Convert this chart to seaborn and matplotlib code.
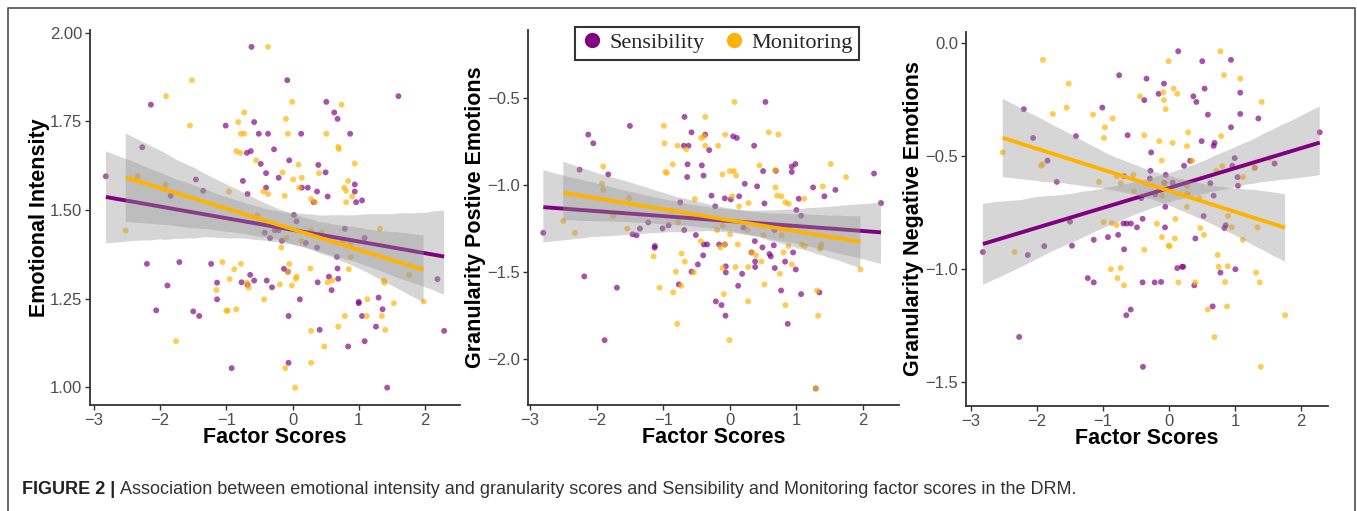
import numpy as np
import pandas as pd
import matplotlib
matplotlib.use("Agg")
import matplotlib.pyplot as plt
import seaborn as sns
from matplotlib.lines import Line2D

# ---------------- data ----------------
groups = ["Sensibility", "Monitoring"]
group_colors = ["#800080", "#FFB300"]

# Panel 1: Emotional Intensity
ei_sens_x = [-0.62, -0.08, -2.14, 1.60, 0.51, 0.63, 0.68, -1.01, -0.58, -0.51, -0.37, 0.13, 0.87, -0.28,
             -2.27, -0.69, -0.63, -0.05, -0.48, 0.39, 0.50, -0.40, -0.21, -2.82, -1.46, -0.75, -0.40, 0.14,
             0.23, 0.94, 0.94, 0.37, -0.68, 0.53, -1.35, -1.84, 0.32, 0.96, 1.05, 0.02, 0.06, 0.79, -0.42,
             -0.27, -0.21, -0.34, -0.16, 0.20, 0.37, 1.09, 0.67, -2.20, -1.71, -1.23, -0.13, 0.68, 0.69,
             0.55, -0.64, -1.14, -0.77, -0.68, -0.58, -0.39, -0.31, 0.38, 0.59, -1.89, -1.14, 0.11, 1.00,
             1.00, 1.30, 1.36, -2.06, -1.50, -1.41, -0.06, 1.05, 1.26, 0.41, 2.19, 2.29, 1.09, 0.84, -0.92,
             -0.06, 1.43, -0.07]
ei_sens_y = [1.960, 1.866, 1.797, 1.821, 1.805, 1.775, 1.757, 1.738, 1.748, 1.715, 1.715, 1.715, 1.715, 1.671,
             1.677, 1.661, 1.666, 1.640, 1.630, 1.627, 1.606, 1.604, 1.591, 1.595, 1.586, 1.582, 1.563, 1.563,
             1.563, 1.572, 1.552, 1.552, 1.545, 1.538, 1.554, 1.540, 1.522, 1.522, 1.527, 1.486, 1.468, 1.447,
             1.436, 1.443, 1.443, 1.421, 1.413, 1.407, 1.394, 1.421, 1.368, 1.348, 1.353, 1.348, 1.334, 1.335,
             1.306, 1.312, 1.317, 1.295, 1.296, 1.289, 1.301, 1.301, 1.282, 1.296, 1.274, 1.287, 1.248, 1.248,
             1.241, 1.237, 1.253, 1.220, 1.217, 1.214, 1.201, 1.201, 1.201, 1.171, 1.162, 1.305, 1.159, 1.130,
             1.115, 1.054, 1.069, 0.999, 1.326]
ei_mon_x = [-0.37, -1.52, -1.91, -0.005, 0.74, -0.73, -0.10, -0.82, -1.55, -0.78, -0.73, -0.07, 0.51, 0.69,
            0.70, -0.85, -0.79, -0.55, 0.94, 0.09, -0.15, 0.40, 0.14, 0.01, -2.34, 0.84, 0.78, 0.10, -1.92,
            0.81, -0.96, -0.44, -0.37, -0.12, 0.90, 0.28, 0.34, 0.81, -2.52, -0.53, 0.28, 0.44, 1.32, 0.76,
            0.13, -0.09, -0.17, 0.88, 0.88, -1.06, -0.78, -0.05, -0.88, 0.27, 0.85, 1.76, 0.06, 0.05, -0.95,
            0.60, 0.53, 1.38, 1.39, -0.69, -0.66, -0.19, -0.01, -1.15, -0.43, 1.13, 1.53, 1.98, -1.00, -0.98,
            -0.85, 0.79, 1.12, 1.35, 0.69, 0.28, 1.40, -1.76, 0.48, 0.28, -0.11, 0.04, -0.07]
ei_mon_y = [1.960, 1.866, 1.821, 1.805, 1.797, 1.775, 1.757, 1.748, 1.738, 1.715, 1.715, 1.715, 1.715, 1.678,
            1.672, 1.666, 1.661, 1.640, 1.631, 1.628, 1.606, 1.604, 1.591, 1.586, 1.595, 1.582, 1.563, 1.563,
            1.571, 1.554, 1.552, 1.552, 1.545, 1.540, 1.538, 1.531, 1.522, 1.522, 1.442, 1.486, 1.442, 1.436,
            1.447, 1.410, 1.413, 1.421, 1.394, 1.406, 1.367, 1.353, 1.348, 1.348, 1.333, 1.335, 1.333, 1.317,
            1.312, 1.306, 1.305, 1.301, 1.296, 1.301, 1.295, 1.295, 1.281, 1.290, 1.287, 1.274, 1.248, 1.248,
            1.237, 1.242, 1.216, 1.216, 1.220, 1.201, 1.201, 1.201, 1.171, 1.159, 1.162, 1.130, 1.115, 1.069,
            1.054, 0.999, 1.325]

# Panel 2: Granularity Positive Emotions
gp_sens_x = [0.535, -0.68, -1.50, -2.125, -2.05, -0.575, -0.37, -0.69, -0.62, -0.31, 0.05, 0.105, 0.365,
             -0.635, -0.42, -0.64, -0.395, -2.255, -1.825, 0.50, 0.69, 0.93, 0.985, 0.93, 0.225, 0.41, 1.25,
             1.585, 2.165, 2.27, 1.42, 1.035, -0.275, -0.075, 0.015, 0.14, 0.52, 1.00, 1.07, -0.22, -0.745,
             -1.225, -1.01, -0.92, -0.685, -1.46, -1.40, -1.35, -2.80, -0.51, 0.205, 0.67, 0.375, -0.39,
             -0.34, -0.16, -1.125, -1.13, 0.49, 0.66, 0.325, 0.615, 0.595, -0.40, 0.95, 0.38, 0.83, -0.48,
             0.38, 0.675, 0.99, -0.06, -0.06, -0.575, 0.185, -2.185, -1.695, -0.765, 0.125, 0.77, 1.07,
             1.345, -0.21, -0.125, -0.065, 0.87, -1.88, -0.075, 1.29]
gp_sens_y = [-0.521, -0.607, -0.659, -0.709, -0.759, -0.696, -0.709, -0.773, -0.773, -0.798, -0.719, -0.728,
             -0.773, -0.880, -0.886, -0.953, -0.945, -0.911, -0.938, -0.919, -0.917, -0.893, -0.878, -0.924,
             -0.992, -1.007, -1.013, -1.027, -0.933, -1.103, -1.064, -1.078, -1.060, -1.076, -1.082, -1.064,
             -1.105, -1.143, -1.176, -1.122, -1.099, -1.214, -1.249, -1.231, -1.258, -1.283, -1.289, -1.250,
             -1.274, -1.287, -1.245, -1.258, -1.322, -1.341, -1.341, -1.341, -1.350, -1.360, -1.358, -1.346,
             -1.387, -1.410, -1.396, -1.404, -1.387, -1.439, -1.440, -1.456, -1.471, -1.477, -1.485, -1.467,
             -1.502, -1.498, -1.510, -1.525, -1.590, -1.571, -1.579, -1.606, -1.627, -1.617, -1.669, -1.690,
             -1.751, -1.798, -1.892, -1.341, -2.170]
gp_mon_x = [0.07, -0.37, -0.99, 0.585, 0.73, -0.43, -0.385, -0.07, -0.98, -0.785, -0.655, -0.37, -0.175,
            -0.855, 0.445, -1.90, -0.965, -0.945, -0.11, 0.00, 0.06, 0.095, 0.68, 1.515, 1.745, -1.92, -1.90,
            0.685, 1.395, 0.71, 0.775, 0.035, -0.525, -1.51, 0.835, 0.885, 0.28, 0.14, 1.115, -2.50, -1.75,
            -0.875, -0.775, -2.325, -1.54, -0.19, -0.105, 0.265, 0.005, 0.505, 0.78, 0.885, -0.435, -0.14,
            0.12, 1.08, 1.125, 1.375, 1.355, 1.365, 0.33, 0.395, 0.805, 0.88, -1.145, -0.725, -0.675, 0.475,
            0.275, 0.93, 0.085, -0.11, -0.81, -0.54, 0.75, 1.96, -1.055, -0.73, 0.52, -0.85, -0.09, 0.275,
            1.31, 0.835, 1.325, -0.79, -0.005, 1.29, -0.075]
gp_mon_y = [-0.521, -0.607, -0.659, -0.696, -0.709, -0.728, -0.719, -0.709, -0.759, -0.773, -0.794, -0.773,
            -0.773, -0.880, -0.886, -0.893, -0.924, -0.930, -0.938, -0.919, -0.919, -0.945, -0.913, -0.878,
            -0.953, -0.991, -1.026, -1.013, -1.007, -1.060, -1.064, -1.064, -1.080, -1.074, -1.099, -1.107,
            -1.103, -1.122, -1.078, -1.206, -1.176, -1.147, -1.214, -1.274, -1.250, -1.258, -1.233, -1.258,
            -1.283, -1.287, -1.289, -1.245, -1.322, -1.358, -1.341, -1.341, -1.350, -1.341, -1.366, -1.358,
            -1.387, -1.404, -1.387, -1.350, -1.410, -1.393, -1.440, -1.439, -1.471, -1.456, -1.471, -1.477,
            -1.498, -1.502, -1.510, -1.485, -1.590, -1.579, -1.571, -1.617, -1.627, -1.669, -1.606, -1.690,
            -1.751, -1.798, -1.892, -2.170, -1.341]

# Panel 3: Granularity Negative Emotions
gn_sens_x = [0.14, 0.505, 0.94, -0.755, -0.34, -0.076, 0.54, 1.08, -0.157, -0.374, 0.37, 0.415, -1.01,
             -2.20, 0.59, 1.08, 1.355, 0.94, 2.285, -2.06, -1.41, -0.627, 0.495, 0.69, 0.677, -0.27, 0.996,
             -1.84, 1.60, 0.228, 0.32, 0.96, -0.28, -0.05, -0.68, 1.04, -1.70, 0.627, 1.045, 0.056, -0.07,
             -0.29, -0.207, -0.42, 0.677, -0.056, -0.40, -0.69, -0.64, -0.576, -1.50, -0.485, -0.06, 0.525,
             0.86, 0.84, -0.77, -0.925, 0.40, -1.14, -1.47, -1.89, -0.68, -2.82, -2.14, 0.197, 0.126, 0.217,
             1.006, 0.78, -1.23, -1.14, -0.40, -0.217, -0.12, 0.384, 0.662, -0.58, -0.647, -2.27, -0.394, 1.30]
gn_sens_y = [-0.038, -0.082, -0.076, -0.144, -0.159, -0.181, -0.203, -0.221, -0.226, -0.254, -0.237, -0.262,
             -0.287, -0.294, -0.318, -0.315, -0.335, -0.374, -0.396, -0.421, -0.413, -0.409, -0.435, -0.443,
             -0.456, -0.485, -0.510, -0.521, -0.534, -0.544, -0.522, -0.544, -0.566, -0.584, -0.590, -0.594,
             -0.615, -0.621, -0.632, -0.618, -0.619, -0.600, -0.671, -0.687, -0.676, -0.725, -0.778, -0.799,
             -0.799, -0.799, -0.791, -0.816, -0.816, -0.766, -0.807, -0.819, -0.849, -0.859, -0.865, -0.871,
             -0.897, -0.899, -0.913, -0.925, -0.938, -0.990, -0.996, -0.990, -1.001, -1.016, -1.040, -1.059,
             -1.059, -1.059, -1.057, -1.072, -1.165, -1.179, -1.204, -1.300, -1.432, -0.553]
gn_mon_x = [-1.91, -0.005, 0.78, 0.834, 1.08, -1.52, 0.07, 0.126, -0.086, -0.44, -0.076, -0.05, -1.55, 1.405,
            -1.76, -1.15, -0.854, -0.97, 0.29, 0.79, -0.374, -0.985, -0.147, 0.056, 0.273, -2.52, -0.11, 0.354,
            -1.915, -1.94, 0.81, 0.72, 1.53, 1.30, 1.12, -0.54, -0.79, -1.06, -0.73, -0.076, 0.273, -0.53,
            -0.106, 0.278, 0.455, 0.273, 0.895, -0.182, 0.096, -0.99, -0.865, -0.794, 0.475, 0.95, 1.34, 0.53,
            -0.106, 0.09, 1.12, -0.005, 0.01, -2.34, -0.374, 0.738, 0.753, 0.89, -0.88, -0.733, -0.78, -0.68,
            0.142, 0.40, 0.85, 1.32, 1.375, 0.88, 0.59, 1.76, 0.69, 1.39]
gn_mon_y = [-0.076, -0.082, -0.038, -0.144, -0.159, -0.181, -0.203, -0.226, -0.219, -0.237, -0.254, -0.294,
            -0.287, -0.262, -0.315, -0.318, -0.335, -0.374, -0.396, -0.413, -0.409, -0.421, -0.435, -0.443,
            -0.457, -0.485, -0.521, -0.522, -0.537, -0.544, -0.546, -0.566, -0.510, -0.553, -0.594, -0.584,
            -0.590, -0.615, -0.621, -0.619, -0.632, -0.656, -0.676, -0.668, -0.687, -0.725, -0.766, -0.800,
            -0.779, -0.793, -0.797, -0.806, -0.819, -0.816, -0.816, -0.849, -0.859, -0.865, -0.871, -0.897,
            -0.899, -0.925, -0.915, -0.938, -0.990, -0.988, -1.001, -0.996, -1.040, -1.072, -1.059, -1.059,
            -1.057, -1.016, -1.059, -1.165, -1.179, -1.204, -1.300, -1.432]

ylabels = ["Emotional Intensity", "Granularity Postive Emotions", "Granularity Negative Emotions"]
xlabel = "Factor Scores"
yticks_list = [[1.00, 1.25, 1.50, 1.75, 2.00], [-2.0, -1.5, -1.0, -0.5], [-1.5, -1.0, -0.5, 0.0]]
ytick_fmt = ["{:.2f}", "{:.1f}", "{:.1f}"]
xticks = [-3, -2, -1, 0, 1, 2]
caption_bold = "FIGURE 2 |"
caption_text = ("Association between emotional intensity and granularity scores and Sensibility "
                "and Monitoring factor scores in the DRM.")

# ---------------- style ----------------
sns.set_style("white")
plt.rcParams["font.family"] = ["Liberation Sans", "DejaVu Sans"]
plt.rcParams["axes.unicode_minus"] = True

W, H = 1357, 511
fig = plt.figure(figsize=(W / 100, H / 100), dpi=100)

# axes rectangles in pixels (left, top, right, bottom)
rects = [(90, 30, 460, 405), (528, 30, 899, 405), (966, 32, 1328, 406)]
xlims = [(-3.06, 2.53), (-3.03, 2.54), (-3.076, 2.41)]
ylims = [(0.950, 2.0076), (-2.265, -0.107), (-1.605, 0.047)]

panel_data = [
    (ei_sens_x, ei_sens_y, ei_mon_x, ei_mon_y),
    (gp_sens_x, gp_sens_y, gp_mon_x, gp_mon_y),
    (gn_sens_x, gn_sens_y, gn_mon_x, gn_mon_y),
]

for i, (rect, (sx, sy, mx, my)) in enumerate(zip(rects, panel_data)):
    l, t, r, b = rect
    ax = fig.add_axes([l / W, 1 - b / H, (r - l) / W, (b - t) / H])
    df = pd.DataFrame({
        "x": list(sx) + list(mx),
        "y": list(sy) + list(my),
        "group": [groups[0]] * len(sx) + [groups[1]] * len(mx),
    })
    sns.scatterplot(data=df, x="x", y="y", hue="group", hue_order=groups, palette=group_colors,
                    s=18, alpha=0.68, edgecolor="none", legend=False, ax=ax, zorder=1.5)
    for k, g in enumerate(groups):
        sub = df[df["group"] == g]
        n_before = len(ax.collections)
        sns.regplot(data=sub, x="x", y="y", scatter=False, ci=95, n_boot=1000, seed=3,
                    color=group_colors[k], truncate=True, ax=ax,
                    line_kws=dict(lw=2.8, zorder=2.1 + k * 0.2, solid_capstyle="butt"))
        for coll in ax.collections[n_before:]:
            coll.set_alpha(0.4)
            coll.set_facecolor("#999999")
            coll.set_edgecolor("none")
            coll.set_zorder(2.0 + k * 0.2)
    ax.set_xlim(*xlims[i])
    ax.set_ylim(*ylims[i])
    ax.set_xticks(xticks)
    ax.set_xticklabels([str(v).replace("-", "\u2212") for v in xticks])
    ax.set_yticks(yticks_list[i])
    ax.set_yticklabels([ytick_fmt[i].format(v).replace("-", "\u2212") for v in yticks_list[i]])
    for side in ["top", "right"]:
        ax.spines[side].set_visible(False)
    for side in ["left", "bottom"]:
        ax.spines[side].set_color("#333333")
        ax.spines[side].set_linewidth(1.3)
    ax.tick_params(axis="both", direction="out", length=3.5, width=1.0, color="#333333",
                   labelcolor="#4D4D4D", labelsize=12, pad=2, bottom=True, left=True)
    ax.set_xlabel(xlabel, fontsize=15.5, fontweight="bold", color="black", va="center")
    ax.set_ylabel(ylabels[i], fontsize=15.5, fontweight="bold", color="black", va="center")
    ax.xaxis.set_label_coords(0.5, (405 - 437) / (b - t))
    ylab_x = [40, 475, 914][i]
    ax.yaxis.set_label_coords((ylab_x - l) / (r - l), 0.5)
    ax.set_facecolor("white")

# legend
handles = [Line2D([], [], marker="o", linestyle="none", markersize=11, markerfacecolor=c,
                  markeredgecolor="none") for c in group_colors]
leg = fig.legend(handles, groups, loc="center", bbox_to_anchor=(717 / W, 1 - 43 / H), ncol=2,
                 frameon=True, fancybox=False, edgecolor="black",
                 prop=dict(family=["Liberation Serif", "DejaVu Serif"], size=16),
                 handletextpad=0.3, columnspacing=0.8, borderpad=0.28, handlelength=1.0,
                 borderaxespad=0)
leg.get_frame().set_linewidth(1.5)

# outer frame
fig.add_artist(Line2D([8 / W, 8 / W, 1355 / W, 1355 / W], [0, 1 - 8 / H, 1 - 8 / H, 0],
                      transform=fig.transFigure, color="#5a5a5a", lw=1.3))

# caption
t1 = fig.text(22 / W, 1 - 490 / H, caption_bold, fontsize=13, fontweight="bold", color="#222222",
              va="center", ha="left")
fig.canvas.draw()
bb = t1.get_window_extent(renderer=fig.canvas.get_renderer())
fig.text((bb.x1 + 5) / W, 1 - 490 / H, caption_text, fontsize=13, color="#333333",
         va="center", ha="left")

fig.savefig("out.png", dpi=100)
